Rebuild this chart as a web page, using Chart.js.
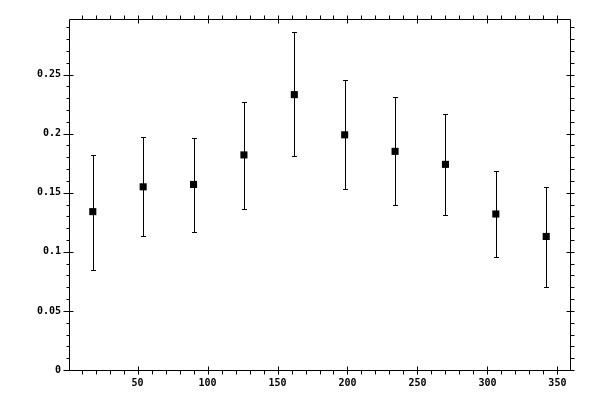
<!DOCTYPE html>
<html>
<head>
<meta charset="utf-8">
<script src="https://cdn.jsdelivr.net/npm/chart.js@4"></script>
<style>
  html, body { margin: 0; padding: 0; background: #fff; }
  #wrap { width: 600px; height: 400px; }
</style>
</head>
<body>
<div id="wrap"><canvas id="chart" width="600" height="400"></canvas></div>
<script>
// ----- data -----
const angles = [18, 54, 90, 126, 162, 198, 234, 270, 306, 342];
const values = [0.134, 0.155, 0.157, 0.182, 0.233, 0.199, 0.185, 0.174, 0.132, 0.113];
const upper  = [0.182, 0.197, 0.196, 0.227, 0.286, 0.245, 0.231, 0.217, 0.168, 0.155];
const lower  = [0.085, 0.113, 0.117, 0.136, 0.181, 0.153, 0.140, 0.131, 0.096, 0.070];

const xTicks = [50, 100, 150, 200, 250, 300, 350];
const yTicks = [0, 0.05, 0.1, 0.15, 0.2, 0.25];
const xMinorStep = 10;
const yMinorStep = 0.01;

// ------ error bars ------
const errorBars = {
    id: 'errorBars',
    afterDatasetsDraw(chart) {
        const { ctx, scales: { x, y } } = chart;
        ctx.save();
        ctx.strokeStyle = '#000';
        ctx.lineWidth = 1;
        angles.forEach((a, i) => {
            const px = Math.round(x.getPixelForValue(a)) + 0.5;
            const top = Math.round(y.getPixelForValue(upper[i])) + 0.5;
            const bot = Math.round(y.getPixelForValue(lower[i])) + 0.5;
            ctx.beginPath();
            ctx.moveTo(px, top); ctx.lineTo(px, bot);
            ctx.moveTo(px - 2.5, top); ctx.lineTo(px + 2.5, top);
            ctx.moveTo(px - 2.5, bot); ctx.lineTo(px + 2.5, bot);
            ctx.stroke();
        });
        ctx.restore();
    }
};

// ------ frame with ticks on all four sides ------
const frame = {
    id: 'frame',
    afterDraw(chart) {
        const { ctx, chartArea: a, scales: { x, y } } = chart;
        const L = a.left + 0.5, R = a.right + 0.5, T = a.top + 0.5, B = a.bottom + 0.5;
        ctx.save();
        ctx.strokeStyle = '#000';
        ctx.lineWidth = 1;
        ctx.beginPath();
        ctx.rect(L, T, R - L, B - T);

        const isMajorX = v => xTicks.includes(v);
        for (let v = xMinorStep; v <= x.max; v += xMinorStep) {
            const px = Math.round(x.getPixelForValue(v)) + 0.5;
            const inner = isMajorX(v) ? 4 : 0;
            ctx.moveTo(px, B - inner); ctx.lineTo(px, B + 4);
            ctx.moveTo(px, T + inner); ctx.lineTo(px, T - 4);
        }
        for (let k = 0; k * yMinorStep <= y.max; k++) {
            const v = +(k * yMinorStep).toFixed(2);
            const py = Math.round(y.getPixelForValue(v)) + 0.5;
            const major = yTicks.includes(v);
            const inner = major ? 4 : 0;
            ctx.moveTo(L + inner, py); ctx.lineTo(L - (major ? 6 : 3), py);
            ctx.moveTo(R - inner, py); ctx.lineTo(R + 4, py);
        }
        ctx.stroke();
        ctx.restore();
    }
};

const tickFont = { family: "'DejaVu Sans Mono', monospace", size: 10, weight: 'bold' };

new Chart(document.getElementById('chart'), {
    type: 'scatter',
    data: {
        datasets: [{
            data: angles.map((a, i) => ({ x: a, y: values[i] })),
            pointStyle: 'rect',
            pointRadius: 5,
            pointBorderWidth: 0,
            backgroundColor: '#000',
            borderColor: '#000'
        }]
    },
    options: {
        responsive: false,
        animation: false,
        devicePixelRatio: 1,
        layout: { padding: { left: 0, top: 19, right: 30, bottom: 0 } },
        plugins: { legend: { display: false }, tooltip: { enabled: false } },
        scales: {
            x: {
                type: 'linear',
                min: 1,
                max: 359,
                grid: { display: false, drawTicks: false },
                border: { display: false },
                afterBuildTicks: s => { s.ticks = xTicks.map(v => ({ value: v })); },
                afterFit: s => { s.height = 30; },
                ticks: { color: '#000', font: tickFont, padding: 7, maxRotation: 0, autoSkip: false }
            },
            y: {
                min: 0,
                max: 0.297,
                grid: { display: false, drawTicks: false },
                border: { display: false },
                afterBuildTicks: s => { s.ticks = yTicks.map(v => ({ value: v })); },
                afterFit: s => { s.width = 69; },
                ticks: {
                    color: '#000', font: tickFont, padding: 8, autoSkip: false,
                    callback: v => String(+v.toFixed(2))
                }
            }
        }
    },
    plugins: [errorBars, frame]
});
</script>
</body>
</html>
